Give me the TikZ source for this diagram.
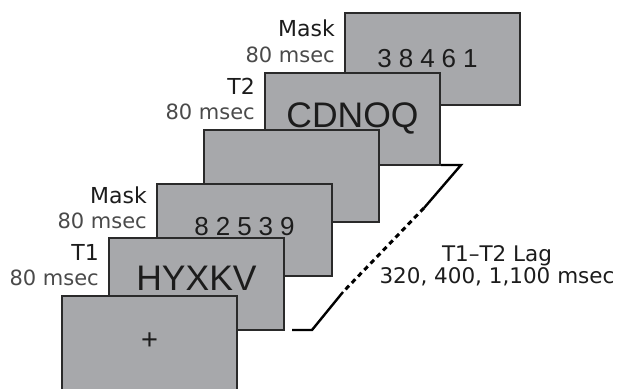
\documentclass[tikz,border=0pt]{standalone}
\usepackage{fontspec}
\setmainfont{DejaVu Sans}
\newfontfamily\arialfont{Liberation Sans}
\usetikzlibrary{calc}
\definecolor{boxgray}{HTML}{A7A8AB}
\definecolor{edgegray}{HTML}{2A2A2A}
\definecolor{labelblack}{HTML}{1C1C1C}
\definecolor{labelgray}{HTML}{4A4A4A}
\begin{document}
\begin{tikzpicture}[x=1pt,y=-1pt,
  frame/.style={draw=edgegray, line width=1.4pt, fill=boxgray, minimum width=175pt, minimum height=92pt, inner sep=0pt, outer sep=0pt, anchor=north west},
  fixframe/.style={frame, minimum height=100pt},
  lblname/.style={anchor=base east, inner sep=0pt, text=labelblack, font=\fontsize{22}{26}\selectfont},
  lbltime/.style={anchor=base east, inner sep=0pt, text=labelgray, font=\fontsize{21}{25}\selectfont},
  digits/.style={anchor=base, inner sep=0pt, text=labelblack, font=\arialfont\fontsize{26}{30}\selectfont},
  letters/.style={anchor=base, inner sep=0pt, text=labelblack, font=\arialfont\fontsize{35.5}{40}\selectfont},
  lagtext/.style={anchor=base, inner sep=0pt, text=labelblack, font=\fontsize{21.5}{25}\selectfont},
  bracket/.style={draw=black, line width=2.4pt},
  dashedpart/.style={draw=black, line width=3pt, dash pattern=on 5pt off 4pt}
]
\useasboundingbox (0,0) rectangle (618,388);
\clip (0,0) rectangle (618,388);
% boxes, back to front
\node[frame] (mask2) at (345,13) {};
\node[frame] (t2) at (265,73) {};
\node[frame] (blank) at (204,130) {};
\node[frame] (mask1) at (157,184) {};
\node[frame] (t1) at (109,238) {};
\node[fixframe] (fix) at (62,296) {};
% texts inside boxes
\node[digits] (d2) at ($(mask2.north)+(-5,54)$) {3\hspace{7pt}8\hspace{7pt}4\hspace{7pt}6\hspace{7pt}1};
\node[letters] (w2) at ($(t2.north)+(0,54)$) {CDNOQ};
\node[digits] (d1) at ($(mask1.north)+(0,51)$) {8\hspace{7pt}2\hspace{7pt}5\hspace{7pt}3\hspace{7pt}9};
\node[letters] (w1) at ($(t1.north)+(0,52)$) {HYXKV};
\node[anchor=center, inner sep=0pt, text=labelblack, font=\arialfont\fontsize{29}{32}\selectfont] (plus) at ($(fix.north)+(0,45)$) {+};
% labels
\node[lblname] (lm2) at ($(mask2.north west)+(-10,23)$) {Mask};
\node[lbltime] (tm2) at ($(mask2.north west)+(-10,49)$) {80 msec};
\node[lblname] (lt2) at ($(t2.north west)+(-10,21)$) {T2};
\node[lbltime] (tt2) at ($(t2.north west)+(-10,46)$) {80 msec};
\node[lblname] (lm1) at ($(mask1.north west)+(-10,19)$) {Mask};
\node[lbltime] (tm1) at ($(mask1.north west)+(-10,44)$) {80 msec};
\node[lblname] (lt1) at ($(t1.north west)+(-10,22)$) {T1};
\node[lbltime] (tt1) at ($(t1.north west)+(-10,47)$) {80 msec};
% lag bracket
\coordinate (b1) at ($(t2.south east)+(1,0)$);
\coordinate (b2) at (461,165);
\coordinate (b3) at (424,208);
\coordinate (b4) at (343,292);
\coordinate (b5) at (312,330);
\coordinate (b6) at ($(t1.south east)+(8,0)$);
\draw[bracket, line join=miter] (b1) -- (b2) -- (b3);
\draw[dashedpart] (b3) -- (b4);
\draw[bracket, line join=miter] (b4) -- (b5) -- (b6);
\node[lagtext] (lag1) at (497,261) {T1–T2 Lag};
\node[lagtext] (lag2) at (497,283) {320, 400, 1,100 msec};
\end{tikzpicture}
\end{document}
